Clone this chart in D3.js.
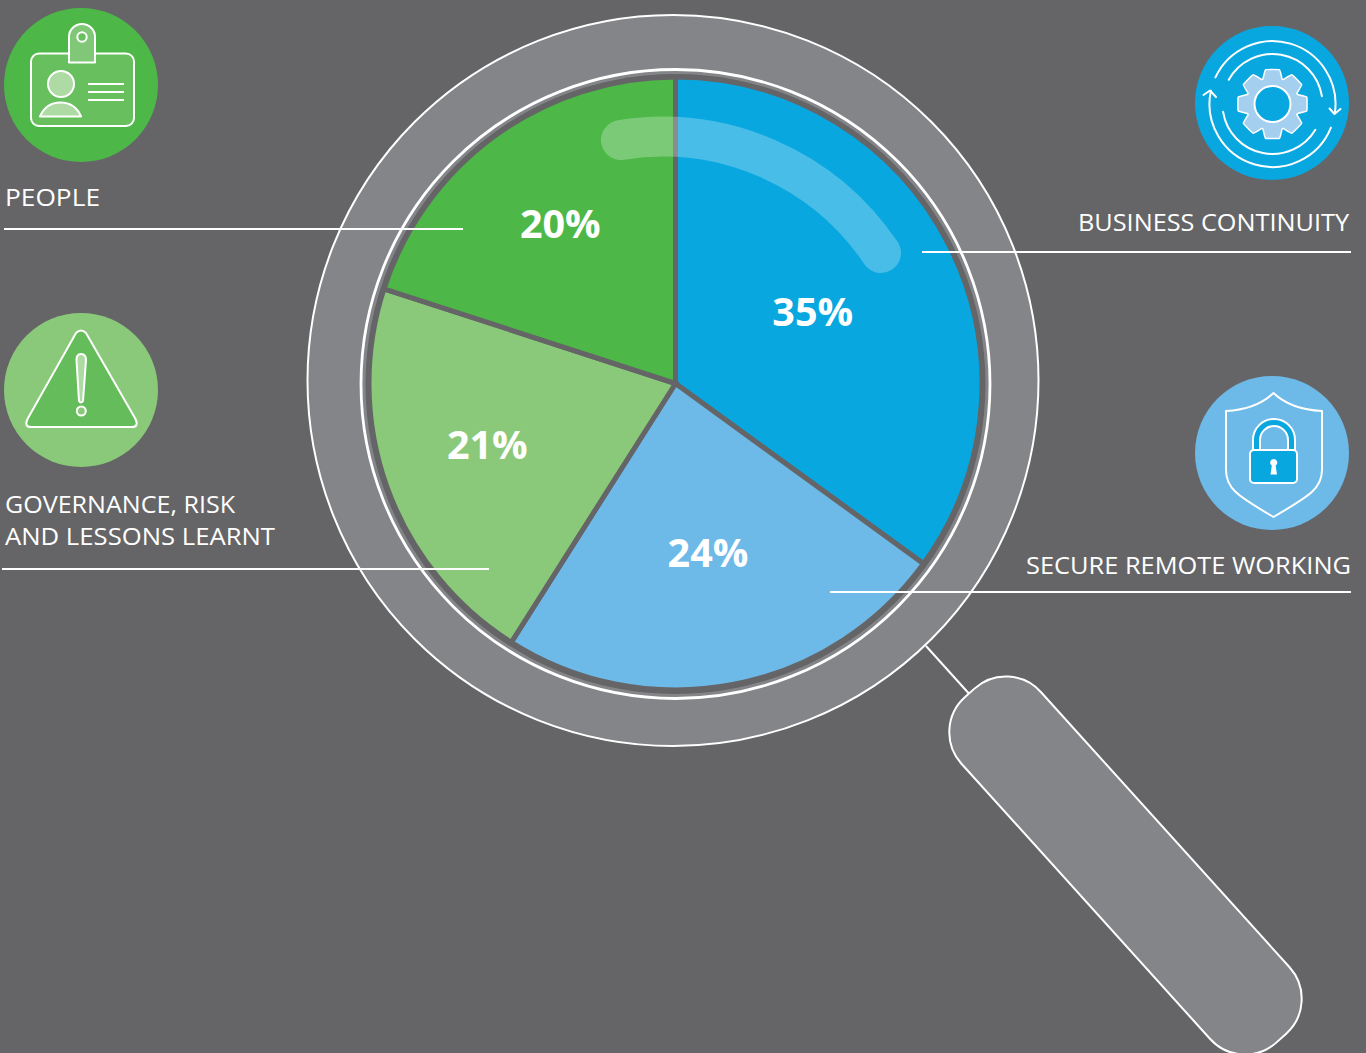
<!DOCTYPE html>
<html>
<head>
<meta charset="utf-8">
<script src="https://cdn.jsdelivr.net/npm/d3@7/dist/d3.min.js"></script>
<style>
html,body{margin:0;padding:0;background:#656567;overflow:hidden}
svg{display:block}
.cat{font-family:"Open Sans",sans-serif;font-weight:400;fill:#fff;font-size:24.5px}
.pct{font-family:"Open Sans",sans-serif;font-weight:700;fill:#fff;font-size:39.5px;text-anchor:middle}
</style>
</head>
<body>
<svg id="chart" width="1366" height="1053"></svg>
<script>
// Risk focus areas, clockwise from twelve o'clock
const categories = ["Business continuity", "Secure remote working", "Governance, risk and lessons learnt", "People"];
const shares = [35, 24, 21, 20];
const sliceColors = ["#09a7e0", "#6db9e8", "#8ac97a", "#4db848"];
const labelRadii = [154, 173, 200, 196];
const labelLift = [2, 1, 6, 1];

const BG = "#656567", GLASS = "#848589", WHITE = "#fff";
const svg = d3.select("#chart");
svg.append("rect").attr("width", 1366).attr("height", 1053).attr("fill", BG);

// Magnifying glass: neck, handle and rim
svg.append("line").attr("x1", 926).attr("y1", 646).attr("x2", 972).attr("y2", 697)
  .attr("stroke", WHITE).attr("stroke-width", 2);
svg.append("rect")
  .attr("x", -232.5).attr("y", -53.5).attr("width", 465).attr("height", 107).attr("rx", 47)
  .attr("transform", "translate(1125.5,865.5) rotate(47.9)")
  .attr("fill", GLASS).attr("stroke", WHITE).attr("stroke-width", 2);
svg.append("circle").attr("cx", 673).attr("cy", 380.5).attr("r", 365.5)
  .attr("fill", GLASS).attr("stroke", WHITE).attr("stroke-width", 2);
svg.append("circle").attr("cx", 675.5).attr("cy", 384).attr("r", 314.5)
  .attr("fill", GLASS).attr("stroke", WHITE).attr("stroke-width", 2.8);
svg.append("circle").attr("cx", 675.5).attr("cy", 384).attr("r", 310).attr("fill", BG);

// Pie
const cx = 675.5, cy = 383.5, R = 306.5;
const pie = d3.pie().value(d => d).sort(null);
const arc = d3.arc().innerRadius(0).outerRadius(R);
const g = svg.append("g").attr("transform", `translate(${cx},${cy})`);
const arcs = pie(shares);
g.selectAll("path.slice").data(arcs).join("path")
  .attr("class", "slice")
  .attr("d", arc)
  .attr("fill", (d, i) => sliceColors[i])
  .attr("stroke", BG).attr("stroke-width", 5).attr("stroke-linejoin", "miter");

// Glare on the lens
svg.append("path").attr("d", "M621,140 A263,263 0 0 1 881,253")
  .attr("fill", "none").attr("stroke", "#fff").attr("stroke-opacity", 0.26)
  .attr("stroke-width", 40).attr("stroke-linecap", "round");

// Percent labels
g.selectAll("text.pct").data(arcs).join("text")
  .attr("class", "pct")
  .attr("x", (d, i) => labelRadii[i] * Math.sin((d.startAngle + d.endAngle) / 2))
  .attr("y", (d, i) => -labelRadii[i] * Math.cos((d.startAngle + d.endAngle) / 2) - labelLift[i])
  .attr("dy", "0.36em")
  .text(d => d.value + "%");

// Leader lines and captions
const leaders = [[922, 252, 1351, 252], [830, 592, 1351, 592], [2, 569, 489, 569], [4, 229, 463, 229]];
svg.selectAll("line.leader").data(leaders).join("line")
  .attr("class", "leader")
  .attr("x1", d => d[0]).attr("y1", d => d[1]).attr("x2", d => d[2]).attr("y2", d => d[3])
  .attr("stroke", WHITE).attr("stroke-width", 2);

const captions = [
  {t: "PEOPLE", x: 5, y: 206, w: 95},
  {t: "BUSINESS CONTINUITY", x: 1078, y: 231, w: 271},
  {t: "GOVERNANCE, RISK", x: 5, y: 513, w: 230},
  {t: "AND LESSONS LEARNT", x: 5, y: 545, w: 270},
  {t: "SECURE REMOTE WORKING", x: 1026, y: 574, w: 325}
];
svg.selectAll("text.cat").data(captions).join("text")
  .attr("class", "cat")
  .attr("x", d => d.x).attr("y", d => d.y)
  .attr("textLength", d => d.w).attr("lengthAdjust", "spacingAndGlyphs")
  .text(d => d.t);

// Icon discs
const line = (sel, s = 2) => sel.attr("stroke", WHITE).attr("stroke-width", s).attr("stroke-linejoin", "round");

// People: ID badge
{
  const c = svg.append("g");
  c.append("circle").attr("cx", 81).attr("cy", 85).attr("r", 77).attr("fill", "#4db848");
  c.append("rect").attr("x", 31).attr("y", 53.5).attr("width", 103).attr("height", 72.5).attr("rx", 8)
    .attr("fill", "#68bf5e").call(line);
  c.append("path").attr("d", "M69,62.5 V37 A13,13 0 0 1 95,37 V62.5 Z").attr("fill", "#80c877").call(line);
  c.append("circle").attr("cx", 82).attr("cy", 37).attr("r", 4.7).attr("fill", "#68bf5e").call(line);
  c.append("circle").attr("cx", 61).attr("cy", 84).attr("r", 13).attr("fill", "#aedaa3").call(line);
  c.append("path").attr("d", "M40,116.5 C44,107 52,102.5 60.5,102.5 C69,102.5 77,107 81,116.5 Z")
    .attr("fill", "#aedaa3").call(line);
  [84, 92, 100].forEach(y => c.append("line").attr("x1", 88).attr("x2", 124).attr("y1", y).attr("y2", y).call(line));
}

// Governance: warning triangle
{
  const c = svg.append("g");
  c.append("circle").attr("cx", 81).attr("cy", 390).attr("r", 77).attr("fill", "#8ac97a");
  c.append("path")
    .attr("d", "M76,333 Q81,328 86,333 L135.5,419 Q139,427 132,427 L31,427 Q24,427 27.5,419 Z")
    .attr("fill", "#65bc5a").call(line);
  c.append("path").attr("d", "M76.5,360 Q76.5,354 81,354 Q86,354 86,360 L83,401 Q81,404 79,401 Z")
    .attr("fill", "#aedaa3").call(line);
  c.append("circle").attr("cx", 81.3).attr("cy", 411).attr("r", 4.5).attr("fill", "#8ac97a").call(line);
}

// Business continuity: gear inside circular arrows
{
  const ox = 1272.5, oy = 104;
  const c = svg.append("g");
  c.append("circle").attr("cx", 1272).attr("cy", 103).attr("r", 77).attr("fill", "#09a7e0");
  const rad = a => (a - 90) * Math.PI / 180;
  const sweep = (r, a0, a1) => {
    const p = d3.path();
    p.arc(ox, oy, r, rad(a0), rad(a1));
    return p.toString();
  };
  [[63, -65, 98], [63, 112, 282], [50, -61, 81], [50, 121, 261]].forEach(s =>
    c.append("path").attr("d", sweep(s[0], s[1], s[2])).attr("fill", "none").attr("stroke-linecap", "round").call(line));
  c.append("path").attr("d", "M1203.5,95 L1210,90.5 L1216,97").attr("fill", "none").attr("stroke-linecap", "round").call(line);
  c.append("path").attr("d", "M1329.5,108.5 L1334.5,114 L1340.5,109").attr("fill", "none").attr("stroke-linecap", "round").call(line);
  // eight teeth: tip, shoulder and valley corners around the hub
  const pts = [];
  d3.range(8).forEach(i => {
    const a = i * Math.PI / 4;
    [[-0.36, 27], [-0.2, 35], [0.2, 35], [0.36, 27]].forEach(q => pts.push([a + q[0], q[1]]));
  });
  c.append("path")
    .attr("d", d3.lineRadial().curve(d3.curveCardinalClosed.tension(0.75))(pts))
    .attr("transform", `translate(${ox},${oy})`)
    .attr("fill", "#a5cfee").call(line, 1.5);
  c.append("circle").attr("cx", ox).attr("cy", oy).attr("r", 18).attr("fill", "#09a7e0").call(line);
}

// Secure remote working: shield and padlock
{
  const c = svg.append("g");
  c.append("circle").attr("cx", 1272).attr("cy", 453).attr("r", 77).attr("fill", "#6db9e8");
  c.append("path")
    .attr("d", "M1273.5,393 C1262,404 1246,410 1226,411 L1226,470 C1226,488 1236,495 1273.5,517 C1311,495 1322,488 1322,470 L1322,411 C1301,410 1285,404 1273.5,393 Z")
    .attr("fill", "none").call(line);
  c.append("path")
    .attr("d", "M1253,450 V440 A21,21 0 0 1 1295,440 V450 H1288 V440 A14,14 0 0 0 1260,440 V450 Z")
    .attr("fill", "#09a7e0").call(line);
  c.append("rect").attr("x", 1250).attr("y", 450).attr("width", 47).attr("height", 33).attr("rx", 4)
    .attr("fill", "#09a7e0").call(line);
  c.append("path").attr("d", "M1273.7,459 a3.6,3.6 0 0 1 2,6.6 L1277,474.5 H1270.5 L1271.8,465.6 a3.6,3.6 0 0 1 1.9,-6.6 Z")
    .attr("fill", WHITE);
}
</script>
</body>
</html>
